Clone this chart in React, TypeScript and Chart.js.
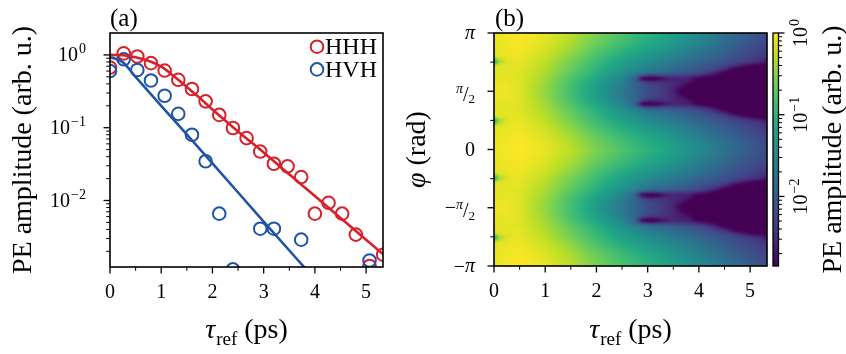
import React, { useEffect, useRef } from 'react';
import { Chart, registerables } from 'chart.js';

Chart.register(...registerables);

const FONT = '"Liberation Serif", "Times New Roman", serif';
const RED = '#d7202a';
const BLUE = '#2153a6';
const INK = '#000000';

// ---------------- panel (a): data ----------------
const TAU_POINTS = [0, 0.267, 0.533, 0.8, 1.067, 1.333, 1.6, 1.867, 2.133, 2.4, 2.667, 2.933, 3.2, 3.467, 3.733, 4.0, 4.267, 4.533, 4.8, 5.067, 5.333];
const HHH = [0.67, 1.05, 0.95, 0.77, 0.61, 0.455, 0.34, 0.23, 0.15, 0.099, 0.072, 0.047, 0.032, 0.0295, 0.021, 0.0066, 0.0093, 0.0066, 0.0034, 0.00126, 0.0018];
const HVH = [0.6, 0.87, 0.62, 0.445, 0.275, 0.155, 0.08, 0.0346, 0.0066, 0.00113, null, 0.0041, 0.0041, null, 0.0029, null, null, null, null, 0.0015, null];

const TAU_FIT_HHH = [0, 0.25, 0.5, 0.75, 1, 1.25, 1.5, 1.75, 2, 2.5, 3, 3.5, 4, 4.5, 5, 5.5];
const FIT_HHH = [1.0, 0.99, 0.93, 0.83, 0.69, 0.51, 0.363, 0.257, 0.178, 0.089, 0.0457, 0.0229, 0.0115, 0.00575, 0.00288, 0.00145];
const TAU_FIT_HVH = [0, 0.1, 0.25, 0.5, 1, 2, 3, 4];
const FIT_HVH = [0.93, 0.89, 0.79, 0.5, 0.2, 0.0324, 0.00513, 0.00083];

const TAU_RANGE = [0, 5.33];
const TAU_TICKS = [0, 1, 2, 3, 4, 5];
const TAU_MINOR = [0.5, 1.5, 2.5, 3.5, 4.5];

const AMP_RANGE_A = [0.00122, 2.0];
const AMP_MAJOR = [1, 0.1, 0.01];
const AMP_EXPONENTS = ['0', '\u22121', '\u22122'];
const AMP_MINOR = [0.002, 0.003, 0.004, 0.005, 0.006, 0.007, 0.008, 0.009, 0.02, 0.03, 0.04, 0.05, 0.06, 0.07, 0.08, 0.09, 0.2, 0.3, 0.4, 0.5, 0.6, 0.7, 0.8, 0.9];

// ---------------- panel (b): data ----------------
const PHI_RANGE = [-Math.PI, Math.PI];
const PHI_TICKS = [Math.PI, Math.PI / 2, 0, -Math.PI / 2, -Math.PI];
const PHI_TICK_LABELS = ['\u03c0', '\u03c0/2', '0', '\u2212\u03c0/2', '\u2212\u03c0'];
const PHI_MINOR = [(3 * Math.PI) / 4, Math.PI / 4, -Math.PI / 4, (-3 * Math.PI) / 4];

// map grid: columns = tau (ps); rows = |phi| folded onto [0, pi/2] (units of pi); values = log10(PE amplitude)
const MAP_TAU = [0, 0.1, 0.25, 0.5, 1.0, 1.5, 2.0, 2.5, 2.75, 2.9, 3.05, 3.2, 3.35, 3.5, 3.65, 3.8, 4.0, 4.25, 4.5, 4.75, 5.0, 5.2, 5.35];
const MAP_PHI = [0, 0.1, 0.2, 0.25, 0.28, 0.31, 0.34, 0.365, 0.39, 0.415, 0.44, 0.47, 0.5];
const MAP_LOG10 = [
  [-0.09, -0.06, -0.03, 0.0, -0.09, -0.29, -0.57, -0.8, -0.92, -0.99, -1.05, -1.1, -1.17, -1.25, -1.32, -1.4, -1.5, -1.63, -1.77, -1.9, -2.03, -2.13, -2.2],
  [-0.11, -0.09, -0.06, -0.03, -0.14, -0.37, -0.66, -0.91, -1.03, -1.1, -1.16, -1.22, -1.28, -1.36, -1.43, -1.51, -1.61, -1.74, -1.87, -2.0, -2.12, -2.21, -2.28],
  [-0.14, -0.11, -0.09, -0.06, -0.23, -0.5, -0.84, -1.12, -1.25, -1.32, -1.39, -1.45, -1.51, -1.58, -1.65, -1.72, -1.81, -1.93, -2.05, -2.17, -2.28, -2.36, -2.42],
  [-1.43, -0.43, -0.14, -0.09, -0.29, -0.6, -0.93, -1.24, -1.37, -1.45, -1.52, -1.58, -1.64, -1.71, -1.78, -1.85, -1.94, -2.05, -2.17, -2.29, -2.4, -2.52, -2.72],
  [-0.14, -0.12, -0.12, -0.1, -0.31, -0.63, -0.97, -1.29, -1.43, -1.52, -1.59, -1.65, -1.71, -1.78, -1.85, -1.92, -2.02, -2.14, -2.27, -2.5, -2.82, -3.0, -3.0],
  [-0.14, -0.11, -0.11, -0.11, -0.33, -0.66, -1.01, -1.35, -1.5, -1.6, -1.68, -1.74, -1.8, -1.87, -1.94, -2.01, -2.11, -2.24, -2.48, -3.0, -3.0, -3.0, -3.0],
  [-0.12, -0.12, -0.12, -0.13, -0.36, -0.7, -1.06, -1.42, -1.6, -1.72, -1.82, -1.88, -1.94, -2.0, -2.06, -2.12, -2.22, -2.45, -2.9, -3.0, -3.0, -3.0, -3.0],
  [-0.12, -0.12, -0.11, -0.13, -0.38, -0.75, -1.12, -1.5, -1.78, -2.1, -2.3, -2.25, -2.25, -2.3, -2.33, -2.38, -2.48, -2.75, -3.0, -3.0, -3.0, -3.0, -3.0],
  [-0.11, -0.11, -0.1, -0.13, -0.4, -0.8, -1.18, -1.56, -1.95, -3.0, -3.2, -3.0, -2.7, -2.58, -2.58, -2.62, -2.9, -3.0, -3.0, -3.0, -3.0, -3.0, -3.0],
  [-0.1, -0.1, -0.09, -0.13, -0.42, -0.83, -1.22, -1.62, -1.92, -2.35, -2.55, -2.5, -2.5, -2.55, -2.6, -2.65, -3.0, -3.0, -3.0, -3.0, -3.0, -3.0, -3.0],
  [-0.09, -0.09, -0.08, -0.14, -0.44, -0.85, -1.26, -1.66, -1.92, -2.12, -2.27, -2.35, -2.43, -2.53, -2.62, -2.82, -3.0, -3.0, -3.0, -3.0, -3.0, -3.0, -3.0],
  [-0.09, -0.08, -0.06, -0.14, -0.46, -0.86, -1.28, -1.68, -1.93, -2.1, -2.24, -2.32, -2.42, -2.55, -2.78, -3.0, -3.0, -3.0, -3.0, -3.0, -3.0, -3.0, -3.0],
  [-0.09, -0.06, -0.06, -0.14, -0.46, -0.86, -1.3, -1.7, -1.93, -2.08, -2.22, -2.3, -2.4, -2.57, -2.88, -3.0, -3.0, -3.0, -3.0, -3.0, -3.0, -3.0, -3.0],
];

const CB_RANGE = [0.00141, 1];
const CB_MAJOR = [1, 0.1, 0.01];
const CB_EXPONENTS = ['0', '\u22121', '\u22122'];
const CB_MINOR = [0.002, 0.003, 0.004, 0.005, 0.006, 0.007, 0.008, 0.009, 0.02, 0.03, 0.04, 0.05, 0.06, 0.07, 0.08, 0.09, 0.2, 0.3, 0.4, 0.5, 0.6, 0.7, 0.8, 0.9];

// ---------------- styling helpers ----------------
const VIRIDIS_HEX = ['#440154', '#482475', '#414487', '#355f8d', '#2a788e', '#21918c', '#22a884', '#44bf70', '#7ad151', '#bddf26', '#fde725'];
const VIRIDIS = VIRIDIS_HEX.map((h) => [parseInt(h.slice(1, 3), 16), parseInt(h.slice(3, 5), 16), parseInt(h.slice(5, 7), 16)]);

const TITLE_PX = 28;
const SUB_PX = 19;
const TICK_PX = 20;

function viridis(t: number): number[] {
  const tt = Math.max(0, Math.min(1, t)) * (VIRIDIS.length - 1);
  const i = Math.min(Math.floor(tt), VIRIDIS.length - 2);
  const f = tt - i;
  const a = VIRIDIS[i];
  const b = VIRIDIS[i + 1];
  return [a[0] + (b[0] - a[0]) * f, a[1] + (b[1] - a[1]) * f, a[2] + (b[2] - a[2]) * f];
}

function locate(arr: number[], v: number): [number, number] {
  const n = arr.length;
  if (v <= arr[0]) return [0, 0];
  if (v >= arr[n - 1]) return [n - 2, 1];
  let i = 0;
  while (v > arr[i + 1]) i++;
  return [i, (v - arr[i]) / (arr[i + 1] - arr[i])];
}

function mapLog10(tau: number, phi: number): number {
  let p = (Math.abs(phi) / Math.PI) % 1;
  if (p > 0.5) p = 1 - p;
  const [i, fi] = locate(MAP_TAU, tau);
  const [j, fj] = locate(MAP_PHI, p);
  const r0 = MAP_LOG10[j][i] * (1 - fi) + MAP_LOG10[j][i + 1] * fi;
  const r1 = MAP_LOG10[j + 1][i] * (1 - fi) + MAP_LOG10[j + 1][i + 1] * fi;
  return r0 * (1 - fj) + r1 * fj;
}

function line(ctx: CanvasRenderingContext2D, x1: number, y1: number, x2: number, y2: number) {
  ctx.beginPath();
  ctx.moveTo(x1, y1);
  ctx.lineTo(x2, y2);
  ctx.stroke();
}

function drawPow10(ctx: CanvasRenderingContext2D, x: number, y: number, exp: string, align: 'right' | 'center') {
  ctx.save();
  ctx.fillStyle = INK;
  ctx.textAlign = 'left';
  ctx.textBaseline = 'alphabetic';
  ctx.font = `${TICK_PX}px ${FONT}`;
  const w1 = ctx.measureText('10').width;
  ctx.font = `14px ${FONT}`;
  const w2 = ctx.measureText(exp).width;
  const total = w1 + 1 + w2;
  const x0 = align === 'right' ? x - total : x - total / 2;
  ctx.font = `${TICK_PX}px ${FONT}`;
  ctx.fillText('10', x0, y + 6.5);
  ctx.font = `14px ${FONT}`;
  ctx.fillText(exp, x0 + w1 + 1, y - 1.5);
  ctx.restore();
}

function drawPhiLabel(ctx: CanvasRenderingContext2D, label: string, xr: number, y: number) {
  const big = `${TICK_PX}px ${FONT}`;
  const ital = `italic ${TICK_PX}px ${FONT}`;
  const smallIt = `italic 14px ${FONT}`;
  const small = `13px ${FONT}`;
  let rest = label;
  const pieces: { t: string; f: string; dy: number }[] = [];
  if (rest.startsWith('\u2212')) {
    pieces.push({ t: '\u2212', f: big, dy: 6.5 });
    rest = rest.slice(1);
  }
  if (rest.includes('/')) {
    const [num, den] = rest.split('/');
    pieces.push({ t: num, f: smallIt, dy: 1.5 });
    pieces.push({ t: '/', f: big, dy: 9.5 });
    pieces.push({ t: den, f: small, dy: 12 });
  } else if (rest === '\u03c0') {
    pieces.push({ t: rest, f: ital, dy: 5.5 });
  } else {
    pieces.push({ t: rest, f: big, dy: 6.5 });
  }
  ctx.save();
  ctx.fillStyle = INK;
  ctx.textAlign = 'left';
  ctx.textBaseline = 'alphabetic';
  let total = 0;
  const widths = pieces.map((p) => {
    ctx.font = p.f;
    const w = ctx.measureText(p.t).width;
    total += w;
    return w;
  });
  let x = xr - total;
  pieces.forEach((p, k) => {
    ctx.font = p.f;
    ctx.fillText(p.t, x, y + p.dy);
    x += widths[k];
  });
  ctx.restore();
}

function drawTauTitle(ctx: CanvasRenderingContext2D, cx: number, baseline: number) {
  ctx.save();
  ctx.fillStyle = INK;
  ctx.textAlign = 'left';
  ctx.textBaseline = 'alphabetic';
  const f1 = `italic ${TITLE_PX}px ${FONT}`;
  const f2 = `${SUB_PX}px ${FONT}`;
  const f3 = `${TITLE_PX}px ${FONT}`;
  ctx.font = f1;
  const w1 = ctx.measureText('\u03c4').width;
  ctx.font = f2;
  const w2 = ctx.measureText('ref').width;
  ctx.font = f3;
  const w3 = ctx.measureText(' (ps)').width;
  let x = cx - (w1 + 1 + w2 + w3) / 2;
  ctx.font = f1;
  ctx.fillText('\u03c4', x, baseline);
  x += w1 + 1;
  ctx.font = f2;
  ctx.fillText('ref', x, baseline + 7);
  x += w2;
  ctx.font = f3;
  ctx.fillText(' (ps)', x, baseline);
  ctx.restore();
}

function drawRotatedText(ctx: CanvasRenderingContext2D, parts: { t: string; f: string }[], cx: number, cy: number) {
  ctx.save();
  ctx.translate(cx, cy);
  ctx.rotate(-Math.PI / 2);
  ctx.fillStyle = INK;
  ctx.textAlign = 'left';
  ctx.textBaseline = 'middle';
  let total = 0;
  const widths = parts.map((p) => {
    ctx.font = p.f;
    const w = ctx.measureText(p.t).width;
    total += w;
    return w;
  });
  let x = -total / 2;
  parts.forEach((p, k) => {
    ctx.font = p.f;
    ctx.fillText(p.t, x, 0);
    x += widths[k];
  });
  ctx.restore();
}

function drawFrameAndTicks(chart: any, xMajor: number[], xMinor: number[], yMajor: number[], yMinor: number[]) {
  const { ctx, chartArea: a, scales } = chart;
  const xs = scales.x;
  const ys = scales.y;
  ctx.save();
  ctx.strokeStyle = INK;
  ctx.lineWidth = 1.3;
  xMajor.forEach((v) => {
    const p = xs.getPixelForValue(v);
    line(ctx, p, a.bottom, p, a.bottom + 6.5);
  });
  ctx.lineWidth = 1.0;
  xMinor.forEach((v) => {
    const p = xs.getPixelForValue(v);
    line(ctx, p, a.bottom, p, a.bottom + 3.8);
  });
  ctx.lineWidth = 1.3;
  yMajor.forEach((v) => {
    const p = ys.getPixelForValue(v);
    line(ctx, a.left - 6.5, p, a.left, p);
  });
  ctx.lineWidth = 1.0;
  yMinor.forEach((v) => {
    const p = ys.getPixelForValue(v);
    if (p > a.top + 0.5 && p < a.bottom - 0.5) line(ctx, a.left - 3.8, p, a.left, p);
  });
  ctx.lineWidth = 1.6;
  ctx.strokeRect(a.left, a.top, a.right - a.left, a.bottom - a.top);
  ctx.restore();
}

const tauAxis = (height: number) => ({
  type: 'linear',
  min: TAU_RANGE[0],
  max: TAU_RANGE[1],
  grid: { display: false, drawTicks: false },
  border: { display: false },
  afterBuildTicks: (s: any) => {
    s.ticks = TAU_TICKS.map((v) => ({ value: v }));
  },
  afterFit: (s: any) => {
    s.height = height;
  },
  ticks: {
    font: { family: FONT, size: TICK_PX },
    color: INK,
    padding: 14,
    maxRotation: 0,
    autoSkip: false,
    callback: (v: number) => String(v),
  },
});

// ---------------- plugins ----------------
const panelAPlugin = {
  id: 'panelA',
  afterDraw(chart: any) {
    const { ctx, chartArea: a, scales } = chart;
    drawFrameAndTicks(chart, TAU_TICKS, TAU_MINOR, AMP_MAJOR, AMP_MINOR);
    AMP_MAJOR.forEach((v, i) => drawPow10(ctx, a.left - 24, scales.y.getPixelForValue(v), AMP_EXPONENTS[i], 'right'));
    // legend
    const items = chart.data.datasets.filter((d: any) => d.label).slice().reverse();
    ctx.save();
    items.forEach((d: any, i: number) => {
      const cx = a.right - 66;
      const cy = a.top + 13.7 + i * 22.7;
      ctx.strokeStyle = d.borderColor;
      ctx.lineWidth = 2;
      ctx.beginPath();
      ctx.arc(cx, cy, 6.3, 0, Math.PI * 2);
      ctx.stroke();
      ctx.fillStyle = INK;
      ctx.font = `24px ${FONT}`;
      ctx.textAlign = 'left';
      ctx.textBaseline = 'middle';
      ctx.fillText(d.label, cx + 8, cy + 1);
    });
    ctx.font = `25px ${FONT}`;
    ctx.fillStyle = INK;
    ctx.textAlign = 'left';
    ctx.textBaseline = 'alphabetic';
    ctx.fillText('(a)', a.left, 26);
    ctx.restore();
    drawRotatedText(ctx, [{ t: 'PE amplitude (arb. u.)', f: `${TITLE_PX}px ${FONT}` }], 24, (a.top + a.bottom) / 2);
    drawTauTitle(ctx, (a.left + a.right) / 2, 338);
  },
};

const panelBPlugin = {
  id: 'panelB',
  beforeDatasetsDraw(chart: any) {
    const { ctx, chartArea: a, scales } = chart;
    const xs = scales.x;
    const ys = scales.y;
    const cb = scales.cb;
    const m = 4;
    const w = Math.round(a.right - a.left) + 2 * m;
    const h = Math.round(a.bottom - a.top) + 2 * m;
    const off = document.createElement('canvas');
    off.width = w;
    off.height = h;
    const octx = off.getContext('2d')!;
    const img = octx.createImageData(w, h);
    const lmin = Math.log10(cb.min);
    const lmax = Math.log10(cb.max);
    for (let py = 0; py < h; py++) {
      const phi = ys.getValueForPixel(a.top - m + py + 0.5);
      for (let px = 0; px < w; px++) {
        const tau = xs.getValueForPixel(a.left - m + px + 0.5);
        const t = (mapLog10(tau, phi) - lmin) / (lmax - lmin);
        const c = viridis(t);
        const k = (py * w + px) * 4;
        img.data[k] = c[0];
        img.data[k + 1] = c[1];
        img.data[k + 2] = c[2];
        img.data[k + 3] = 255;
      }
    }
    octx.putImageData(img, 0, 0);
    ctx.save();
    ctx.beginPath();
    ctx.rect(a.left, a.top, a.right - a.left, a.bottom - a.top);
    ctx.clip();
    ctx.filter = 'blur(1px)';
    ctx.drawImage(off, a.left - m, a.top - m);
    ctx.restore();
  },
  afterDraw(chart: any) {
    const { ctx, chartArea: a, scales } = chart;
    drawFrameAndTicks(chart, TAU_TICKS, TAU_MINOR, PHI_TICKS, PHI_MINOR);
    PHI_TICKS.forEach((v, i) => drawPhiLabel(ctx, PHI_TICK_LABELS[i], a.left - 19, scales.y.getPixelForValue(v)));
    // colorbar
    const cb = scales.cb;
    const lmin = Math.log10(cb.min);
    const lmax = Math.log10(cb.max);
    const x0 = a.right + 6;
    const x1 = a.right + 11.5;
    const top = cb.top;
    const bottom = cb.bottom;
    ctx.save();
    for (let py = Math.floor(top); py < bottom; py++) {
      const v = cb.getValueForPixel(py + 0.5);
      const c = viridis((Math.log10(v) - lmin) / (lmax - lmin));
      ctx.fillStyle = `rgb(${c[0] | 0},${c[1] | 0},${c[2] | 0})`;
      ctx.fillRect(x0, py, x1 - x0, 1);
    }
    ctx.strokeStyle = INK;
    ctx.lineWidth = 1.3;
    ctx.strokeRect(x0, top, x1 - x0, bottom - top);
    CB_MAJOR.forEach((v) => {
      const p = cb.getPixelForValue(v);
      line(ctx, x1, p, x1 + 6, p);
    });
    ctx.lineWidth = 1.0;
    CB_MINOR.forEach((v) => {
      const p = cb.getPixelForValue(v);
      if (p > top && p < bottom) line(ctx, x1, p, x1 + 3.5, p);
    });
    CB_MAJOR.forEach((v, i) => {
      const p = cb.getPixelForValue(v);
      ctx.save();
      ctx.translate(x1 + 22, p);
      ctx.rotate(-Math.PI / 2);
      drawPow10(ctx, 0, 0, CB_EXPONENTS[i], 'center');
      ctx.restore();
    });
    ctx.font = `25px ${FONT}`;
    ctx.fillStyle = INK;
    ctx.textAlign = 'left';
    ctx.textBaseline = 'alphabetic';
    ctx.fillText('(b)', a.left + 1, 26);
    ctx.restore();
    drawRotatedText(
      ctx,
      [
        { t: '\u03c6', f: `italic ${TITLE_PX}px ${FONT}` },
        { t: ' (rad)', f: `${TITLE_PX}px ${FONT}` },
      ],
      18,
      (a.top + a.bottom) / 2
    );
    drawRotatedText(ctx, [{ t: 'PE amplitude (arb. u.)', f: `${TITLE_PX}px ${FONT}` }], a.right + 67, (a.top + a.bottom) / 2);
    drawTauTitle(ctx, (a.left + a.right) / 2, 338);
  },
};

export default function App() {
  const aRef = useRef<HTMLCanvasElement>(null);
  const bRef = useRef<HTMLCanvasElement>(null);

  useEffect(() => {
    const chartA = new Chart(aRef.current as HTMLCanvasElement, {
      type: 'scatter',
      data: {
        datasets: [
          {
            type: 'line',
            data: TAU_FIT_HVH.map((x, i) => ({ x, y: FIT_HVH[i] })),
            borderColor: BLUE,
            borderWidth: 2.6,
            pointRadius: 0,
            fill: false,
            cubicInterpolationMode: 'monotone',
            clip: 0,
          },
          {
            type: 'line',
            data: TAU_FIT_HHH.map((x, i) => ({ x, y: FIT_HHH[i] })),
            borderColor: RED,
            borderWidth: 2.6,
            pointRadius: 0,
            fill: false,
            cubicInterpolationMode: 'monotone',
            clip: 0,
          },
          {
            label: 'HVH',
            data: TAU_POINTS.map((x, i) => ({ x, y: HVH[i] })),
            borderColor: BLUE,
            backgroundColor: 'rgba(0,0,0,0)',
            pointRadius: 6.3,
            pointBorderWidth: 2,
            borderWidth: 2,
            clip: 0,
          },
          {
            label: 'HHH',
            data: TAU_POINTS.map((x, i) => ({ x, y: HHH[i] })),
            borderColor: RED,
            backgroundColor: 'rgba(0,0,0,0)',
            pointRadius: 6.3,
            pointBorderWidth: 2,
            borderWidth: 2,
            clip: 0,
          },
        ],
      } as any,
      options: {
        responsive: false,
        maintainAspectRatio: false,
        animation: false,
        events: [],
        layout: { padding: { top: 33, right: 17, left: 0, bottom: 0 } },
        plugins: { legend: { display: false }, tooltip: { enabled: false } },
        scales: {
          x: tauAxis(87),
          y: {
            type: 'logarithmic',
            min: AMP_RANGE_A[0],
            max: AMP_RANGE_A[1],
            grid: { display: false, drawTicks: false },
            border: { display: false },
            ticks: { display: false },
            afterFit: (s: any) => {
              s.width = 110;
            },
          },
        },
      } as any,
      plugins: [panelAPlugin],
    });

    const chartB = new Chart(bRef.current as HTMLCanvasElement, {
      type: 'scatter',
      data: { datasets: [] },
      options: {
        responsive: false,
        maintainAspectRatio: false,
        animation: false,
        events: [],
        layout: { padding: { top: 33, right: 79, left: 0, bottom: 0 } },
        plugins: { legend: { display: false }, tooltip: { enabled: false } },
        scales: {
          x: tauAxis(88),
          y: {
            type: 'linear',
            min: PHI_RANGE[0],
            max: PHI_RANGE[1],
            grid: { display: false, drawTicks: false },
            border: { display: false },
            ticks: { display: false },
            afterFit: (s: any) => {
              s.width = 94;
            },
          },
          cb: {
            type: 'logarithmic',
            axis: 'y',
            position: 'right',
            display: false,
            min: CB_RANGE[0],
            max: CB_RANGE[1],
          },
        },
      } as any,
      plugins: [panelBPlugin],
    });

    return () => {
      chartA.destroy();
      chartB.destroy();
    };
  }, []);

  return (
    <div style={{ position: 'absolute', left: 0, top: 0, width: 846, height: 354, background: '#ffffff' }}>
      <canvas ref={aRef} width={400} height={354} style={{ position: 'absolute', left: 0, top: 0, width: 400, height: 354 }} />
      <canvas ref={bRef} width={446} height={354} style={{ position: 'absolute', left: 400, top: 0, width: 446, height: 354 }} />
    </div>
  );
}
